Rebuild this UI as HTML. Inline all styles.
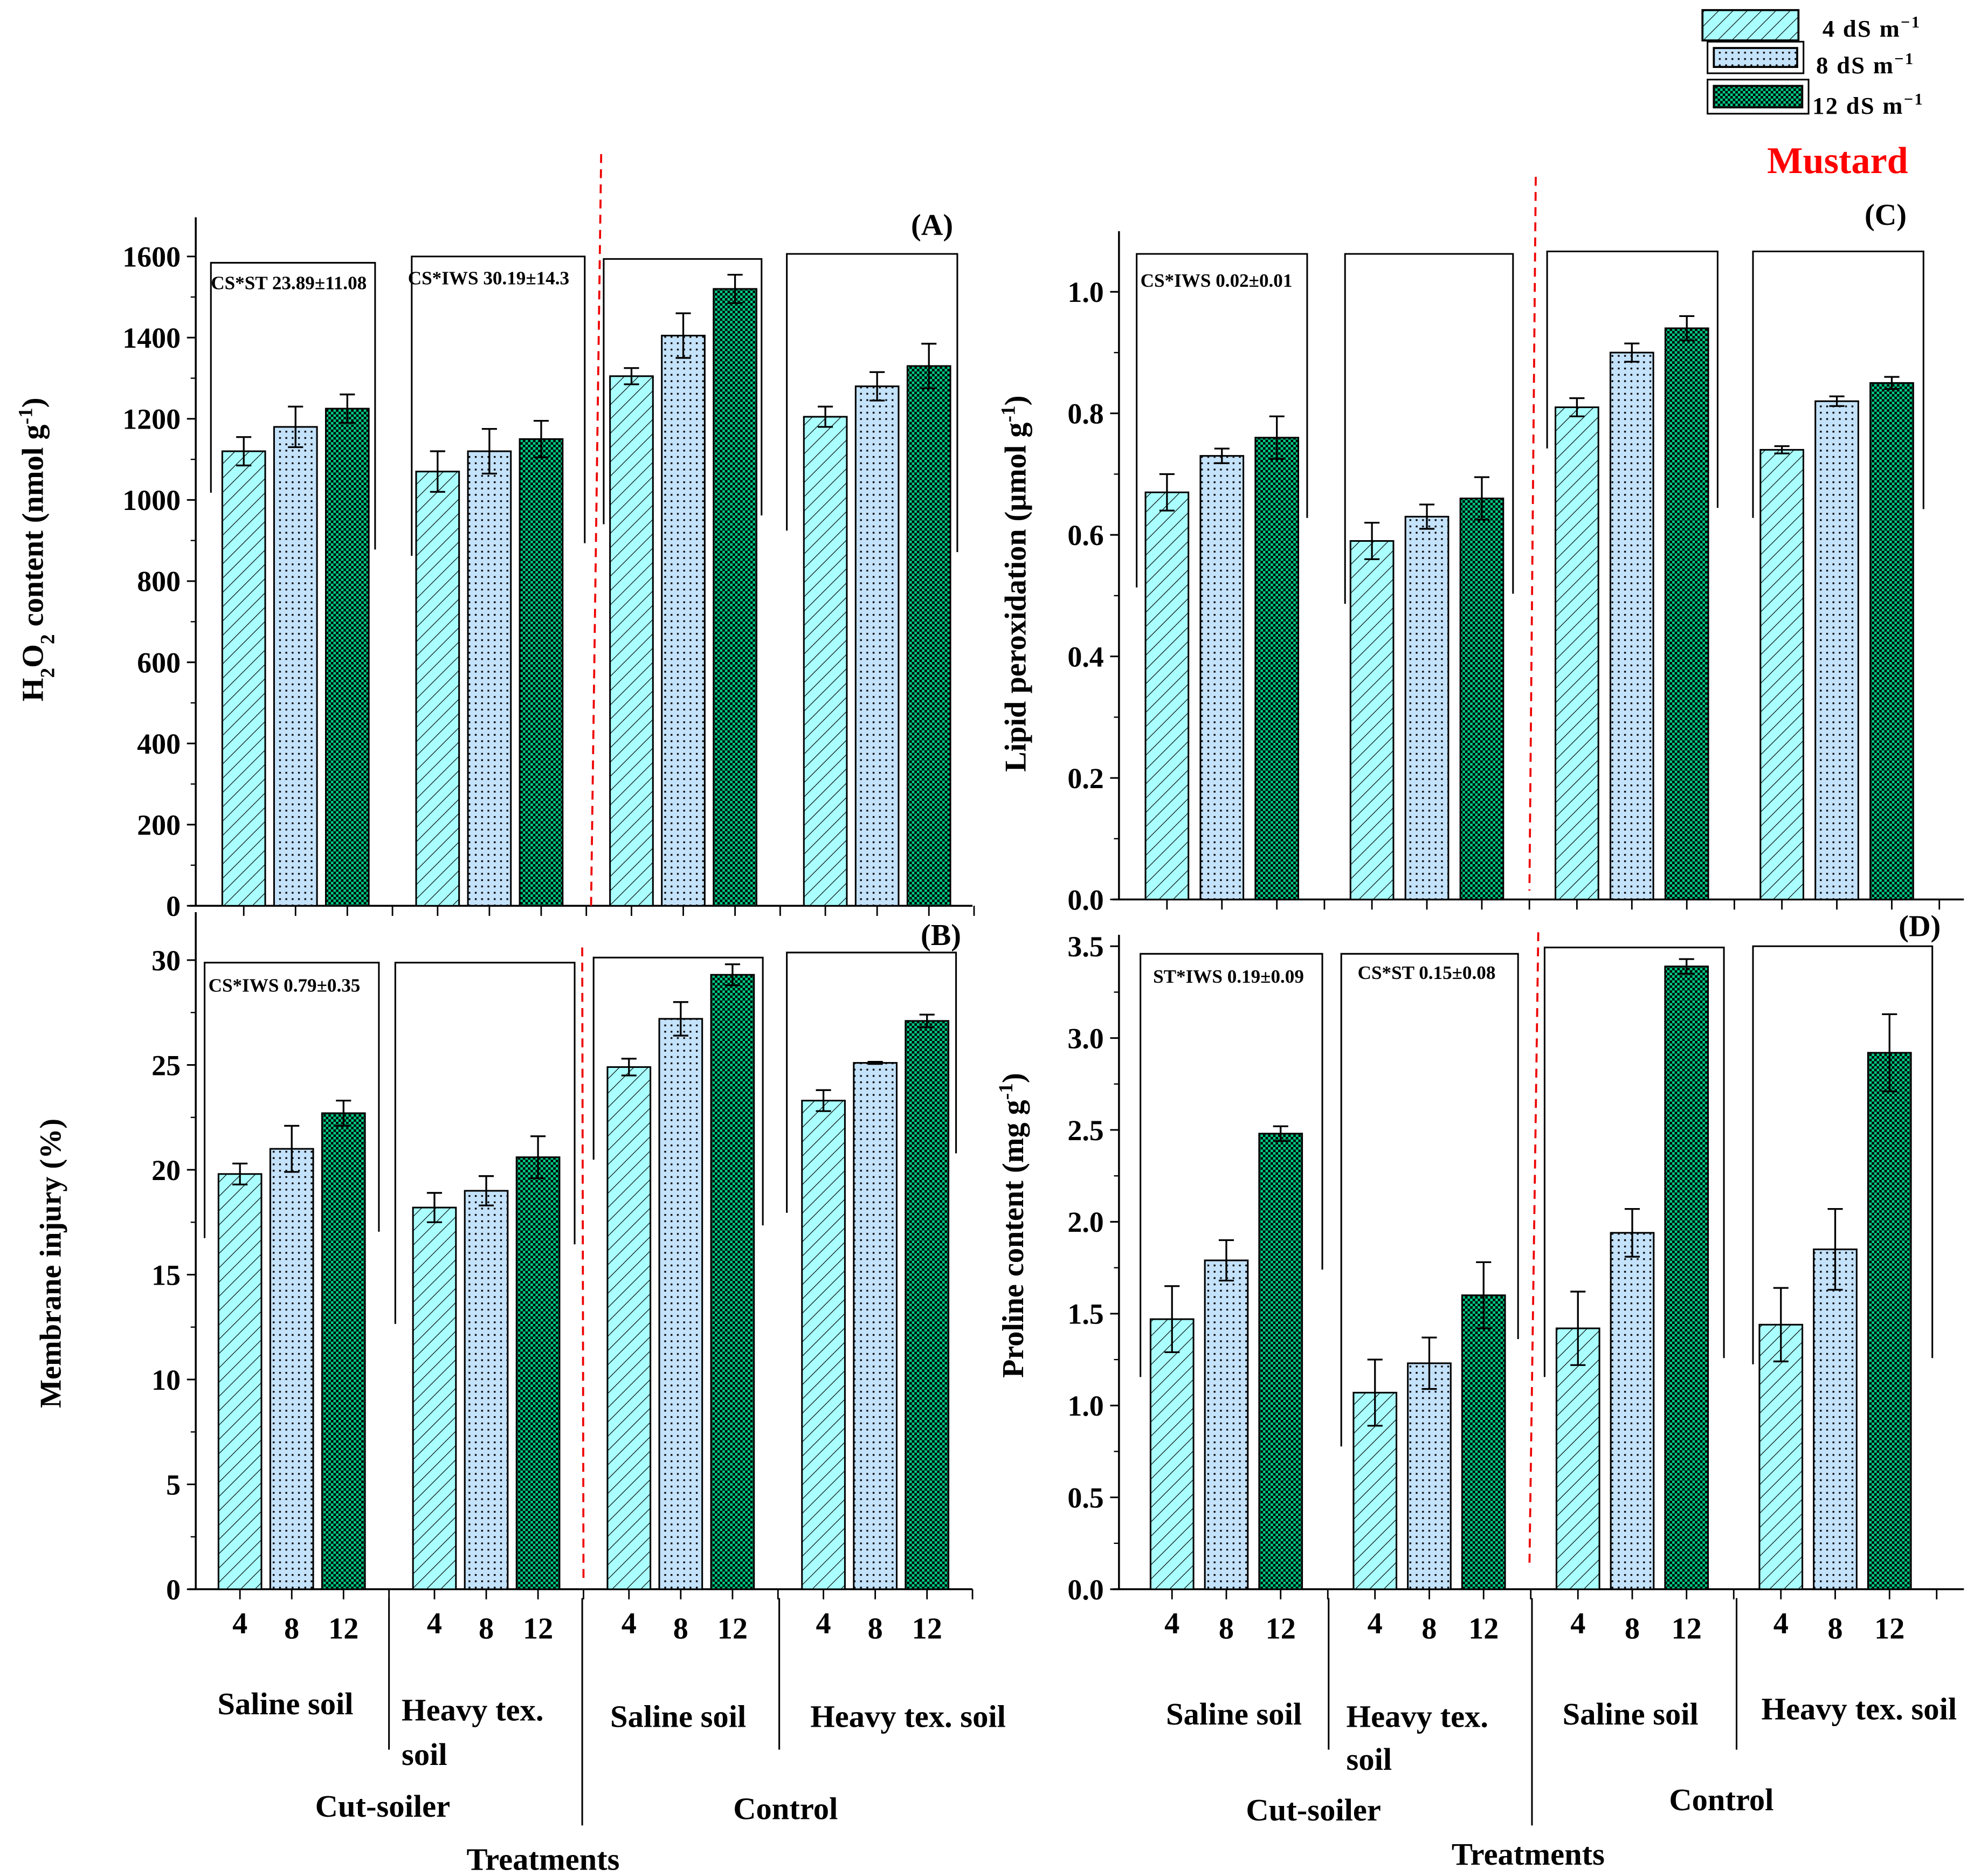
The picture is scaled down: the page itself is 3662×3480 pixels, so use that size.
<!DOCTYPE html>
<html><head><meta charset="utf-8"><style>
html,body{margin:0;padding:0;background:#fff}
svg{display:block}
text{font-family:"Liberation Serif","Times New Roman",serif;font-weight:bold}
</style></head><body>
<svg id="chart" width="3662" height="3480" viewBox="0 0 1563 1485" preserveAspectRatio="none" xmlns="http://www.w3.org/2000/svg" font-family="Liberation Serif, serif" font-weight="bold">
<defs>
<pattern id="hatch" patternUnits="userSpaceOnUse" width="8" height="8" patternTransform="rotate(45)"><rect width="8" height="8" fill="#aaffff"/><line x1="0" y1="0" x2="0" y2="8" stroke="#000" stroke-width="1"/></pattern>
<pattern id="dots" patternUnits="userSpaceOnUse" width="5" height="5"><rect width="5" height="5" fill="#c4e2fa"/><rect x="1" y="1" width="1.4" height="1.4" fill="#000"/></pattern>
<pattern id="check" patternUnits="userSpaceOnUse" width="4" height="4"><rect width="4" height="4" fill="#000"/><rect width="2" height="2" fill="#00cc88"/><rect x="2" y="2" width="2" height="2" fill="#00cc88"/></pattern>
</defs>
<g id="root" font-family="Liberation Serif, serif" font-weight="bold"></g>
</svg>
<script>
// Panel A: H2O2
const catsGroups = ["CS Saline soil","CS Heavy tex. soil","Control Saline soil","Control Heavy tex. soil"];
const seriesNames = ["4 dS m-1","8 dS m-1","12 dS m-1"];
const A4 = [1120,1070,1305,1205], A8 = [1180,1120,1405,1280], A12 = [1225,1150,1520,1330];
const A4e = [35,50,20,25], A8e = [50,55,55,35], A12e = [35,45,35,55];
const AticksLabels = [0,200,400,600,800,1000,1200,1400,1600];
// Panel B: Membrane injury
const B4 = [19.8,18.2,24.9,23.3], B8 = [21.0,19.0,27.2,25.1], B12 = [22.7,20.6,29.3,27.1];
const B4e = [0.5,0.7,0.4,0.5], B8e = [1.1,0.7,0.8,0.05], B12e = [0.6,1.0,0.5,0.3];
const BticksLabels = [0,5,10,15,20,25,30];
// Panel C: Lipid peroxidation
const C4 = [0.67,0.59,0.81,0.74], C8 = [0.73,0.63,0.90,0.82], C12 = [0.76,0.66,0.94,0.85];
const C4e = [0.03,0.03,0.015,0.006], C8e = [0.012,0.02,0.015,0.008], C12e = [0.035,0.035,0.02,0.01];
const CticksLabels = ["0.0","0.2","0.4","0.6","0.8","1.0"];
// Panel D: Proline
const D4 = [1.47,1.07,1.42,1.44], D8 = [1.79,1.23,1.94,1.85], D12 = [2.48,1.60,3.39,2.92];
const D4e = [0.18,0.18,0.2,0.2], D8e = [0.11,0.14,0.13,0.22], D12e = [0.04,0.18,0.04,0.21];
const DticksLabels = ["0.0","0.5","1.0","1.5","2.0","2.5","3.0","3.5"];

const NS="http://www.w3.org/2000/svg";
const root=document.getElementById('root');
function mk(tag,attrs,parent){const e=document.createElementNS(NS,tag);for(const k in attrs)e.setAttribute(k,attrs[k]);(parent||root).appendChild(e);return e;}
function txt(x,y,s,size,anchor,parent,fill){const t=mk('text',{x:x,y:y,'font-size':size,'text-anchor':anchor||'middle','font-family':'Liberation Serif, serif','font-weight':'bold'},parent);t.setAttribute('style','fill:'+(fill||'#000'));t.textContent=s;return t;}
const fills=["url(#hatch)","url(#dots)","url(#check)"];

function panel(cfg){
  const g=mk('g',{});
  
  
  const y=v=>cfg.y0-v*cfg.k;
  const x=(gi,si)=>cfg.x0+gi*cfg.gstep+si*cfg.bstep;
  const ax=mk('line',{x1:cfg.ax,y1:cfg.top,x2:cfg.ax,y2:cfg.y0,stroke:'#000','stroke-width':1.5},g);
  
  const xa=mk('line',{x1:cfg.ax-5,y1:cfg.y0,x2:cfg.xend,y2:cfg.y0,stroke:'#000','stroke-width':1.5},g);
  
  cfg.ticks.forEach((lab,i)=>{
    const v=parseFloat(lab);const yy=y(v);
    mk('line',{x1:cfg.ax-7,y1:yy,x2:cfg.ax,y2:yy,stroke:'#000','stroke-width':1.3},g);
    const t=txt(cfg.ax-12,yy+8,String(lab),23,'end',g);
    
    if(i<cfg.ticks.length-1){const ym=y(v+cfg.step/2);mk('line',{x1:cfg.ax-4,y1:ym,x2:cfg.ax,y2:ym,stroke:'#000','stroke-width':1},g);}
  });
  const yt=mk('text',{x:0,y:0,'font-size':24,'text-anchor':'middle','font-family':'Liberation Serif, serif','font-weight':'bold',transform:`translate(${cfg.titleX},${cfg.titleY}) rotate(-90)`},g);
  
  yt.innerHTML=cfg.title;
  cfg.brackets.forEach(b=>{
    const p=mk('path',{d:`M${b[0]},${b[3]} V${b[2]} H${b[1]} V${b[4]}`,fill:'none',stroke:'#000','stroke-width':1.3},g);
    
  });
  const vals=[cfg.s4,cfg.s8,cfg.s12], errs=[cfg.e4,cfg.e8,cfg.e12];
  for(let gi=0;gi<4;gi++){for(let si=0;si<3;si++){
    const cx=x(gi,si),v=vals[si][gi],e=errs[si][gi],w=34;
    const r=mk('rect',{x:cx-w/2,y:y(v),width:w,height:cfg.y0-y(v),fill:fills[si],stroke:'#000','stroke-width':1.3},g);
    
    
    const eb=mk('path',{d:`M${cx},${y(v+e)} V${y(v-e)} M${cx-6},${y(v+e)} H${cx+6} M${cx-6},${y(v-e)} H${cx+6}`,stroke:'#000','stroke-width':1.4,fill:'none'},g);
    
    mk('line',{x1:cx,y1:cfg.y0,x2:cx,y2:cfg.y0+8,stroke:'#000','stroke-width':1.2},g);
    if(cfg.xlabels){const t=txt(cx,cfg.y0+37+(si==0?-2:2),['4','8','12'][si],24,'middle',g);
      }
  }
  mk('line',{x1:x(gi,2)+cfg.gstep/2-cfg.bstep,y1:cfg.y0,x2:x(gi,2)+cfg.gstep/2-cfg.bstep,y2:cfg.y0+8,stroke:'#000','stroke-width':1.2},g);}
  const rd=mk('line',{x1:cfg.red[0],y1:cfg.red[1],x2:cfg.red[2],y2:cfg.red[3],stroke:'#e00','stroke-width':1.6,'stroke-dasharray':'7,5'},g);
  
  const pl=txt(cfg.lab[0],cfg.lab[1],cfg.lab[2],24,'middle',g);
  
  cfg.notes.forEach(n=>{const t=txt(n[0],n[1],n[2],15,'start',g);});
}

panel({name:'panel-a',ax:155,top:172,y0:717,k:514/1600,step:200,xend:770,ticks:AticksLabels,
  x0:193,gstep:153.5,bstep:41,s4:A4,s8:A8,s12:A12,e4:A4e,e8:A8e,e12:A12e,
  titleX:34,titleY:435,title:'H<tspan baseline-shift="sub" font-size="16">2</tspan>O<tspan baseline-shift="sub" font-size="16">2</tspan> content (nmol g<tspan baseline-shift="super" font-size="16">-1</tspan>)',
  brackets:[[167,297,208,390,435],[326,463,203,440,430],[478,603,205,415,408],[623,758,201,420,437]],
  red:[476,122,468,717],lab:[738,186,'(A)'],notes:[[167,229,'CS*ST 23.89±11.08'],[323,225,'CS*IWS 30.19±14.3']]});
panel({name:'panel-b',ax:155,top:722,y0:1258,k:498/30,step:5,xend:770,ticks:BticksLabels,xlabels:true,
  x0:190,gstep:154,bstep:41,s4:B4,s8:B8,s12:B12,e4:B4e,e8:B8e,e12:B12e,
  titleX:48,titleY:1000,title:'Membrane injury (%)',
  brackets:[[162,300,762,980,975],[313,455,762,1048,985],[470,604,758,918,970],[623,757,754,960,913]],
  red:[461,750,462,1250],lab:[745,748,'(B)'],notes:[[165,785,'CS*IWS 0.79±0.35']]});
panel({name:'panel-c',ax:886,top:183,y0:712,k:481,step:0.2,xend:1555,ticks:CticksLabels,
  x0:924,gstep:162.3,bstep:43.5,s4:C4,s8:C8,s12:C12,e4:C4e,e8:C8e,e12:C12e,
  titleX:812,titleY:462,title:'Lipid peroxidation (µmol g<tspan baseline-shift="super" font-size="16">-1</tspan>)',
  brackets:[[900,1035,201,465,410],[1065,1198,201,478,470],[1225,1360,199,355,402],[1388,1523,199,410,403]],
  red:[1216,140,1211,705],lab:[1493,178,'(C)'],notes:[[903,227,'CS*IWS 0.02±0.01']]});
panel({name:'panel-d',ax:886,top:740,y0:1258,k:509/3.5,step:0.5,xend:1555,ticks:DticksLabels,xlabels:true,
  x0:928,gstep:160.7,bstep:43,s4:D4,s8:D8,s12:D12,e4:D4e,e8:D8e,e12:D12e,
  titleX:810,titleY:970,title:'Proline content (mg g<tspan baseline-shift="super" font-size="16">-1</tspan>)',
  brackets:[[903,1047,755,1090,1005],[1062,1202,755,1145,1060],[1223,1365,750,1090,1075],[1388,1530,749,1080,1075]],
  red:[1218,738,1211,1240],lab:[1520,741,'(D)'],notes:[[913,778,'ST*IWS 0.19±0.09'],[1075,775,'CS*ST 0.15±0.08']]});

const groupLabels=[[226,1357,'Saline soil','middle'],[318,1362,'Heavy tex.','start'],[318,1397,'soil','start'],[537,1367,'Saline soil','middle'],[719,1367,'Heavy tex. soil','middle'],
 [977,1365,'Saline soil','middle'],[1066,1367,'Heavy tex.','start'],[1066,1401,'soil','start'],[1291,1365,'Saline soil','middle'],[1472,1361,'Heavy tex. soil','middle']];
groupLabels.forEach(l=>{const t=txt(l[0],l[1],l[2],25,l[3]);});
[[303,1438,'Cut-soiler'],[622,1440,'Control'],[1040,1441,'Cut-soiler'],[1363,1433,'Control']].forEach(l=>{const t=txt(l[0],l[1],l[2],25);});
[[430,1480],[1210,1476]].forEach(l=>{const t=txt(l[0],l[1],'Treatments',25);});
[[308,1265,1385],[461,1265,1445],[617,1265,1385],[1052,1265,1385],[1213,1265,1445],[1375,1265,1385]].forEach(s=>{const l=mk('line',{x1:s[0],y1:s[1],x2:s[0],y2:s[2],stroke:'#000','stroke-width':1.3});});

const leg=mk('g',{});


const legRects=[[1348,8,76,24],[1352,33,76,25],[1352,63,80,27]];
const legText=[[1443,29,'4  dS m'],[1438,58,'8 dS m'],[1435,90,'12 dS m']];
for(let i=0;i<3;i++){
  const r=legRects[i];
  if(i>0) mk('rect',{x:r[0],y:r[1],width:r[2],height:r[3],fill:'#fff',stroke:'#000','stroke-width':1.3},leg);
  const inset=i>0?5:0;
  const rr=mk('rect',{x:r[0]+inset,y:r[1]+inset,width:r[2]-2*inset,height:r[3]-2*inset,fill:fills[i],stroke:'#000','stroke-width':1.6},leg);
  
  
  const t=mk('text',{x:legText[i][0],y:legText[i][1],'font-size':19,'text-anchor':'start','letter-spacing':'1','font-family':'Liberation Serif, serif','font-weight':'bold'},leg);
  t.innerHTML=legText[i][2]+'<tspan baseline-shift="super" font-size="13">−1</tspan>';
  
  
}
const m=txt(1455,137,'Mustard',30,'middle',null,'#ff0000');


</script>
</body></html>
